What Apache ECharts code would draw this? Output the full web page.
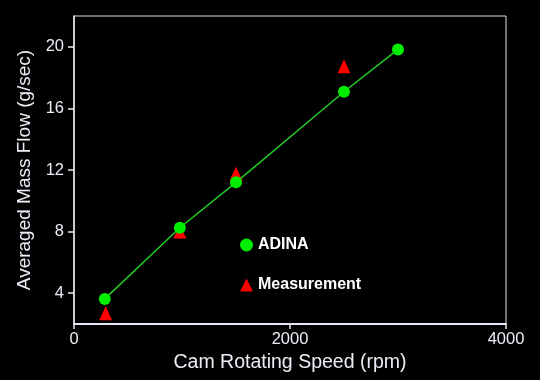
<!DOCTYPE html>
<html>
<head>
<meta charset="utf-8">
<script src="https://cdn.jsdelivr.net/npm/echarts@6/dist/echarts.min.js"></script>
<style>html,body{margin:0;padding:0;background:#000;}#c{width:540px;height:380px;}</style>
</head>
<body>
<div id="c"></div>
<script>
const adinaX = [285, 980, 1500, 2500, 3000];
const adinaY = [3.63, 8.25, 11.2, 17.08, 19.83];
const measX = [293, 980, 1500, 2500];
const measY = [2.7, 8.0, 11.75, 18.73];
const yTicks = [4, 8, 12, 16, 20];
const xTitle = 'Cam Rotating Speed (rpm)';
const yTitle = 'Averaged Mass Flow (g/sec)';

const txt = '#ececf6';
const font = '"Liberation Sans", Arial, Helvetica, sans-serif';
const chart = echarts.init(document.getElementById('c'));
chart.setOption({
  backgroundColor: '#000',
  animation: false,
  textStyle: { fontFamily: font },
  grid: { left: 74, right: 34, top: 16, bottom: 56, show: true, borderColor: '#dddddd', borderWidth: 1 },
  legend: {
    orient: 'vertical', left: 240, top: 237, padding: 0, itemGap: 24, itemWidth: 13, itemHeight: 13,
    textStyle: { color: '#ffffff', fontSize: 16, fontWeight: 'bold', fontFamily: font },
    data: [{ name: 'ADINA', icon: 'circle' }, { name: 'Measurement', icon: 'triangle' }]
  },
  xAxis: {
    type: 'value', min: 0, max: 4000, interval: 2000,
    name: xTitle, nameLocation: 'middle', nameGap: 24,
    nameTextStyle: { color: txt, fontSize: 19.5, fontFamily: font },
    axisLine: { lineStyle: { color: '#e8e8f4', width: 2 } },
    axisTick: { inside: false, length: 5, lineStyle: { color: '#e8e8f4', width: 1.5 } },
    axisLabel: { color: txt, fontSize: 16.5, margin: 7, fontFamily: font, formatter: v => String(v) },
    splitLine: { show: false }
  },
  yAxis: {
    type: 'value', min: 2, max: 22,
    name: yTitle, nameLocation: 'middle', nameGap: 39,
    nameTextStyle: { color: txt, fontSize: 19, fontFamily: font },
    axisLine: { show: true, lineStyle: { color: '#e8e8f4', width: 1.5 } },
    axisTick: { show: true, length: 6, customValues: yTicks, lineStyle: { color: '#e8e8f4', width: 1.5 } },
    axisLabel: { color: txt, fontSize: 16.5, margin: 10, customValues: yTicks, fontFamily: font },
    splitLine: { show: false }
  },
  series: [
    {
      name: 'Measurement', type: 'scatter', symbol: 'triangle', symbolSize: [13, 14],
      itemStyle: { color: '#ff0000', opacity: 1 }, z: 2,
      data: measX.map((x, i) => [x, measY[i]])
    },
    {
      name: 'ADINA', type: 'line', symbol: 'circle', symbolSize: 12, showAllSymbol: true,
      lineStyle: { color: '#22cc22', width: 1.5 }, itemStyle: { color: '#00ee00', borderWidth: 0, opacity: 1 }, z: 3,
      data: adinaX.map((x, i) => [x, adinaY[i]])
    }
  ]
});
</script>
</body>
</html>
